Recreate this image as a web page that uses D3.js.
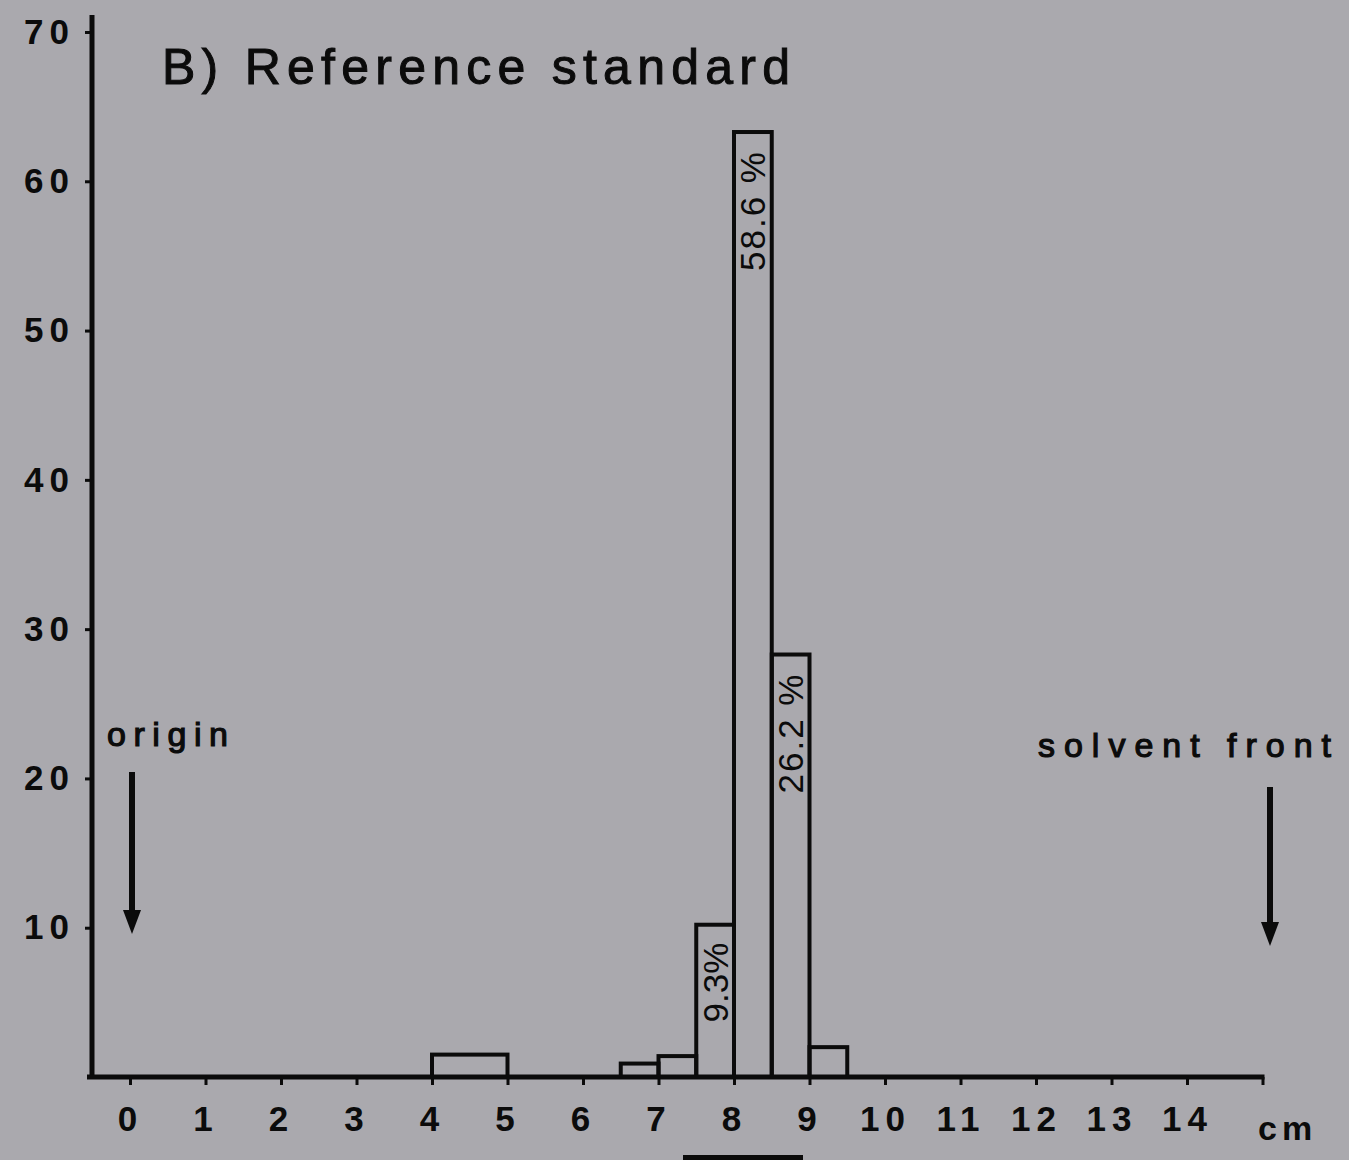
<html lang="en">
<head>
  <meta charset="UTF-8"/>
  <title>Reference standard</title>
  <script src="https://d3js.org/d3.v7.min.js"></script>
  <style>
    body { margin: 0; background: #aaa9ae; }
    svg { display: block; background: #aaa9ae; }
    text { font-family: 'Liberation Sans', Arial, sans-serif; fill: #0b0b0b; }
    .tick text { font-size: 35px; font-weight: bold; letter-spacing: 6px; }
    .tick line { stroke: #0b0b0b; stroke-width: 3px; }
    .domain { display: none; }
  </style>
</head>
<body>
<svg width="1349" height="1160"></svg>
<script>
  // bins along the plate (cm) and percentage of activity
  const binStart = [4, 6.5, 7, 7.5, 8, 8.5, 9];
  const binEnd = [5, 7, 7.5, 8, 8.5, 9, 9.5];
  const values = [1.5, 0.9, 1.4, 10.2, 63.3, 28.3, 2.0];
  const barLabels = ['', '', '', '9.3%', '58.6 %', '26.2 %', ''];
  const xTicks = [0, 1, 2, 3, 4, 5, 6, 7, 8, 9, 10, 11, 12, 13, 14, 15];
  const yTicks = [10, 20, 30, 40, 50, 60, 70];

  const svg = d3.select('svg');

  const x = d3.scaleLinear().domain([0, 14]).range([130, 1187]);
  const y = d3.scaleLinear().domain([0, 70]).range([1077, 32]);

  const ink = '#0b0b0b';

  // bars
  svg.selectAll('.bar')
    .data(values)
    .enter()
    .append('rect')
    .attr('class', 'bar')
    .attr('x', (d, i) => x(binStart[i]))
    .attr('y', (d) => y(d))
    .attr('width', (d, i) => x(binEnd[i]) - x(binStart[i]))
    .attr('height', (d) => y(0) - y(d))
    .attr('fill', 'none')
    .attr('stroke', ink)
    .attr('stroke-width', 4);

  // percentage labels written up the bars
  svg.selectAll('.pct')
    .data(values)
    .enter()
    .append('text')
    .attr('class', 'pct')
    .attr('transform', (d, i) => {
      const cx = (x(binStart[i]) + x(binEnd[i])) / 2;
      return `translate(${cx}, ${y(d) + 18}) rotate(-90)`;
    })
    .attr('text-anchor', 'end')
    .attr('dominant-baseline', 'central')
    .style('font-size', '35px')
    .style('letter-spacing', (d, i) => i === 3 ? '0px' : '2px')
    .text((d, i) => barLabels[i]);

  // axes
  svg.append('g')
    .attr('transform', `translate(92, 0)`)
    .call(d3.axisLeft(y).tickValues(yTicks).tickSize(7).tickSizeOuter(0).tickPadding(10));

  svg.append('g')
    .attr('transform', `translate(0, ${y(0)})`)
    .call(d3.axisBottom(x).tickValues(xTicks).tickSize(8).tickSizeOuter(0).tickPadding(21)
      .tickFormat((d) => d < 15 ? d : ''));

  svg.append('line')
    .attr('x1', 92).attr('x2', 92)
    .attr('y1', y(0) + 2).attr('y2', 15)
    .attr('stroke', ink).attr('stroke-width', 5);

  svg.append('line')
    .attr('x1', 87).attr('x2', x(15) + 2)
    .attr('y1', y(0)).attr('y2', y(0))
    .attr('stroke', ink).attr('stroke-width', 5);

  svg.append('text')
    .attr('x', 1258)
    .attr('y', 1140)
    .style('font-size', '34px')
    .style('font-weight', 'bold')
    .style('letter-spacing', '5px')
    .text('cm');

  // title
  svg.append('text')
    .attr('x', 162)
    .attr('y', 84)
    .attr('textLength', 628)
    .attr('lengthAdjust', 'spacing')
    .style('font-size', '50px')
    .style('stroke', ink)
    .style('stroke-width', '1px')
    .text('B) Reference standard');

  // origin / solvent front markers
  svg.append('text')
    .attr('x', 107)
    .attr('y', 746)
    .attr('textLength', 121)
    .attr('lengthAdjust', 'spacing')
    .style('font-size', '34px')
    .style('stroke', ink)
    .style('stroke-width', '1.2px')
    .text('origin');

  svg.append('text')
    .attr('x', 1038)
    .attr('y', 757)
    .attr('textLength', 293)
    .attr('lengthAdjust', 'spacing')
    .style('font-size', '34px')
    .style('stroke', ink)
    .style('stroke-width', '1.2px')
    .text('solvent front');

  const arrow = (ax, y1, y2) => {
    svg.append('line')
      .attr('x1', ax).attr('x2', ax)
      .attr('y1', y1).attr('y2', y2 - 20)
      .attr('stroke', ink).attr('stroke-width', 6);
    svg.append('path')
      .attr('d', `M${ax - 9},${y2 - 24} L${ax + 9},${y2 - 24} L${ax},${y2} Z`)
      .attr('fill', ink);
  };
  arrow(x(0) + 2, 772, 934);
  arrow(1270, 787, 946);

  // scan marks along the bottom edge
  svg.append('rect')
    .attr('x', 683).attr('y', 1155)
    .attr('width', 120).attr('height', 5)
    .attr('fill', ink);
</script>
</body>
</html>
